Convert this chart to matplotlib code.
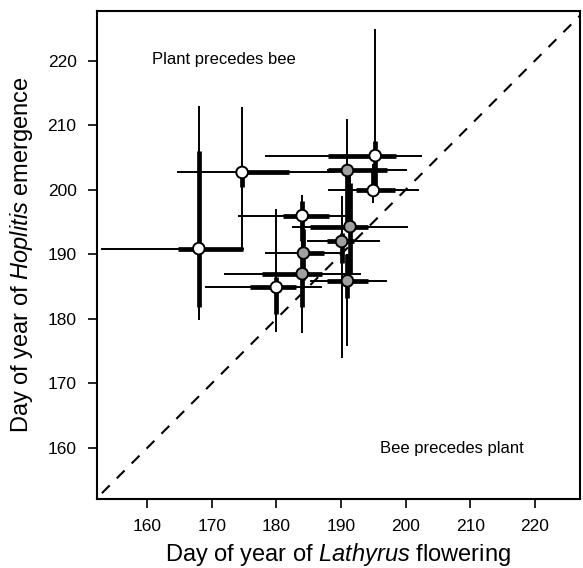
import numpy as np
import matplotlib
matplotlib.use("Agg")
import matplotlib.pyplot as plt

plt.rcParams['font.family'] = ['Liberation Sans', 'DejaVu Sans']
plt.rcParams['mathtext.fontset'] = 'custom'
plt.rcParams['mathtext.rm'] = 'Liberation Sans'
plt.rcParams['mathtext.it'] = 'Liberation Sans:italic'

# site/year estimates: flowering day (x) and bee emergence day (y)
x = [168.0, 174.7, 184.0, 184.2, 184.0, 180.0, 191.0, 195.3, 195.0, 191.4, 190.1, 191.0]
y = [190.9, 202.7, 196.0, 190.2, 187.0, 184.9, 203.0, 205.3, 199.9, 194.3, 192.0, 185.9]
# thin bars = full range, thick bars = inner range
x_lo = [152.8, 164.6, 174.0, 178.2, 171.9, 168.9, 187.9, 178.2, 188.0, 182.4, 184.7, 185.2]
x_hi = [175.0, 189.1, 190.9, 190.1, 193.1, 187.0, 200.2, 202.5, 202.1, 200.4, 196.1, 197.1]
x_q1 = [164.8, 174.0, 181.0, 183.3, 177.8, 175.9, 188.0, 188.0, 192.4, 185.2, 187.8, 187.8]
x_q3 = [174.8, 181.9, 188.2, 187.4, 187.0, 183.1, 197.1, 198.5, 198.3, 194.2, 192.0, 194.2]
y_lo = [179.8, 190.8, 190.0, 184.0, 177.8, 177.9, 194.0, 200.0, 198.0, 186.0, 173.9, 175.8]
y_hi = [213.0, 212.8, 199.2, 195.0, 193.0, 197.0, 211.0, 224.9, 204.0, 203.0, 199.0, 190.0]
y_q1 = [181.9, 200.5, 192.0, 186.0, 181.9, 180.8, 194.5, 200.5, 199.5, 187.0, 188.6, 183.2]
y_q3 = [206.0, 203.5, 198.2, 194.0, 190.5, 186.5, 203.5, 207.5, 203.0, 201.0, 193.3, 190.0]
filled = [False, False, False, True, True, False, True, False, False, True, True, True]

xlim = (152.2, 227.0)
ylim = (152.1, 227.7)

fig = plt.figure(figsize=(5.83, 5.68), dpi=100)
ax = fig.add_axes([0.1659, 0.1215, 0.829, 0.859])

# 1:1 line
ax.plot([153, 227], [153, 227], color='black', lw=1.5, dashes=(5.3, 4.8), zorder=1)

ax.hlines(y, x_lo, x_hi, color='black', lw=1.4, zorder=2)
ax.vlines(x, y_lo, y_hi, color='black', lw=1.4, zorder=2)
ax.hlines(y, x_q1, x_q3, color='black', lw=3.4, zorder=3)
ax.vlines(x, y_q1, y_q3, color='black', lw=3.4, zorder=3)

cols = ['#a0a0a0' if f else 'white' for f in filled]
ax.scatter(x, y, s=70, c=cols, edgecolors='black', linewidths=1.4, zorder=4)

ax.text(160.8, 220.2, 'Plant precedes bee', fontsize=12, va='center', ha='left')
ax.text(196.1, 160.0, 'Bee precedes plant', fontsize=12, va='center', ha='left')

ax.set_xlim(*xlim)
ax.set_ylim(*ylim)
ax.set_xticks(np.arange(160, 221, 10))
ax.set_yticks(np.arange(160, 221, 10))
ax.tick_params(direction='out', length=6.5, width=1.2, labelsize=12.5, pad=8)
for s in ax.spines.values():
    s.set_linewidth(1.5)

ax.set_xlabel('Day of year of $\\it{Lathyrus}$ flowering', fontsize=17, labelpad=5)
ax.set_ylabel('Day of year of $\\it{Hoplitis}$ emergence', fontsize=17, labelpad=9)

fig.savefig('out.png', dpi=100)
